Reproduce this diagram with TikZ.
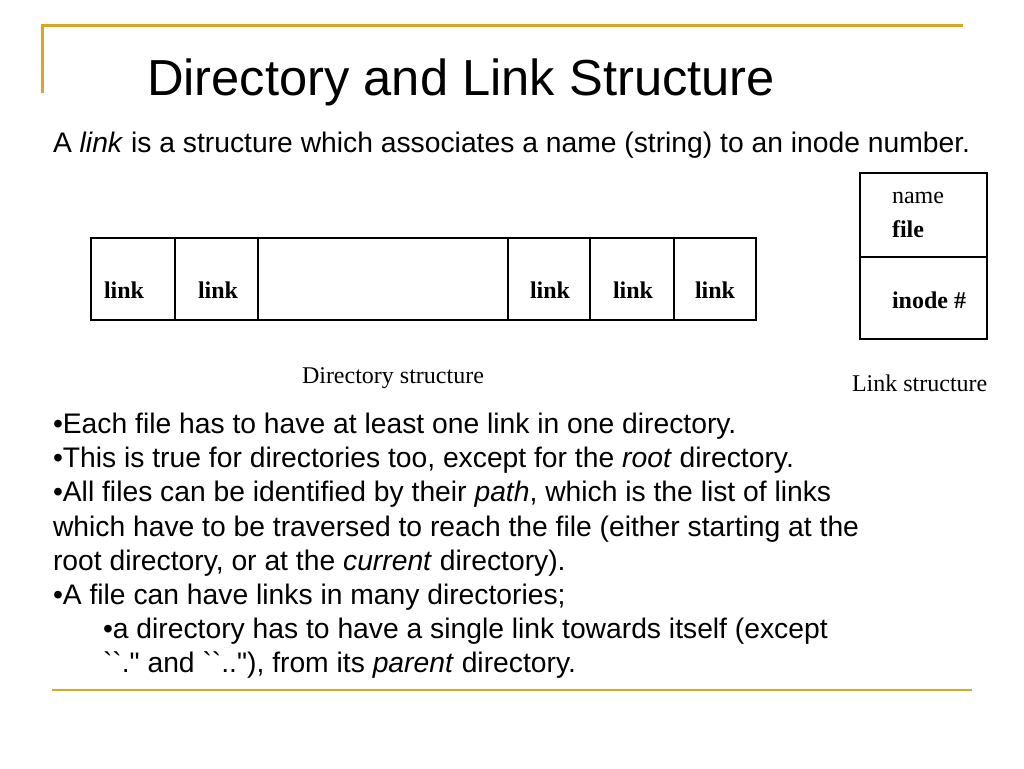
\documentclass[tikz,border=0pt]{standalone}
\usepackage{fontspec}
\newfontfamily\arial{Liberation Sans}
\newfontfamily\tms{Liberation Serif}
\definecolor{gold}{RGB}{218,166,36}
\begin{document}
\begin{tikzpicture}[x=0.75pt,y=-0.75pt,
  txt/.style={anchor=base west,inner sep=0pt,outer sep=0pt},
  body/.style={txt,font=\arial\fontsize{21.2}{25}\selectfont},
  lab/.style={txt,font=\tms\fontsize{18}{20}\selectfont},
  blab/.style={txt,font=\tms\bfseries\fontsize{18}{20}\selectfont},
  goldline/.style={draw=gold,line width=1.7pt},
  box/.style={draw=black,line width=1.5pt}]
\useasboundingbox[fill=white] (0,0) rectangle (1024,768);
% gold frame lines
\draw[goldline] (42.5,93) -- (42.5,25.5) -- (963,25.5);
\draw[goldline] (52,690) -- (972,690);
% title
\node[txt,font=\arial\fontsize{38}{44}\selectfont] (title) at (147,95) {Directory and Link Structure};
\node[body] (intro) at (53,152) {A \textit{link} is a structure which associates a name (string) to an inode number.};
% directory structure
\draw[box] (91,238) rectangle (756,320);
\foreach \x in {175,257.5,508,590,674} \draw[box] (\x,238) -- (\x,320);
\node[blab] (l1) at (104,298) {link};
\node[blab] (l2) at (198,298) {link};
\node[blab] (l3) at (530,298) {link};
\node[blab] (l4) at (613,298) {link};
\node[blab] (l5) at (695,298) {link};
\node[lab] (dircap) at (302,383) {Directory structure};
% link structure
\draw[box] (860,173) rectangle (987,339);
\draw[box] (860,257) -- (987,257);
\node[lab] (nm) at (892,203) {name};
\node[blab] (fl) at (892,237) {file};
\node[blab] (ino) at (892,308) {inode \#};
\node[lab] (linkcap) at (852,391) {Link structure};
% bullets
\node[body] (b1) at (53,433.5) {•Each file has to have at least one link in one directory.};
\node[body] (b2) at (53,467.7) {•This is true for directories too, except for the \textit{root} directory.};
\node[body] (b3) at (53,501.9) {•All files can be identified by their \textit{path}, which is the list of links};
\node[body] (b3b) at (53,536.1) {which have to be traversed to reach the file (either starting at the};
\node[body] (b3c) at (53,570.3) {root directory, or at the \textit{current} directory).};
\node[body] (b4) at (53,604.5) {•A file can have links in many directories;};
\node[body] (b5) at (103,638.7) {•a directory has to have a single link towards itself (except};
\node[body] (b5b) at (103,672.9) {``." and ``.."), from its \textit{parent} directory.};
\end{tikzpicture}
\end{document}
